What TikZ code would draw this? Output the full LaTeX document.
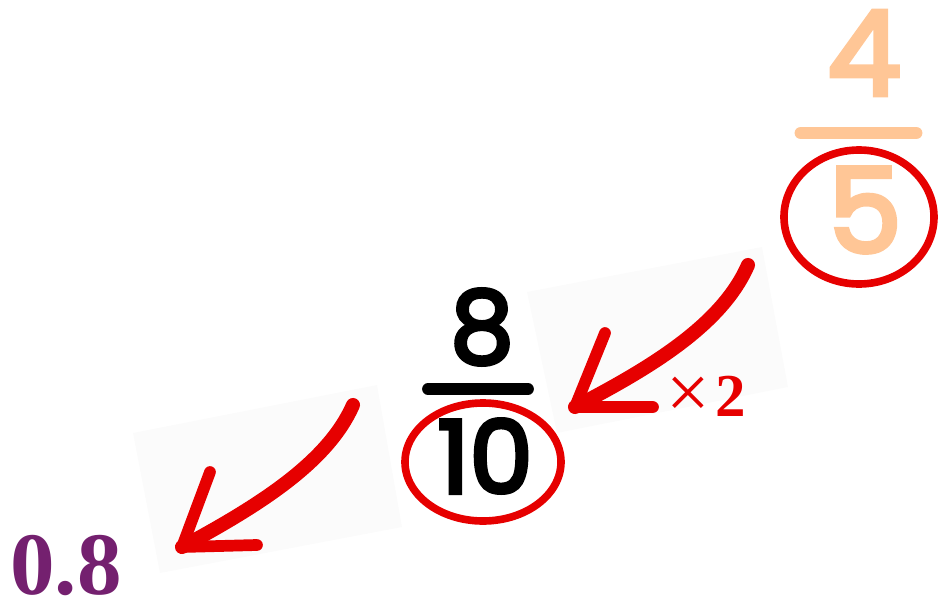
\documentclass[tikz,border=0pt]{standalone}
\usepackage{fontspec}
\usetikzlibrary{shapes.geometric}
\newfontfamily\handfont[FakeBold=4]{Poppins}
\newfontfamily\serifnum{Liberation Serif}
\definecolor{peach}{HTML}{FFC696}
\definecolor{redpen}{HTML}{E60000}
\definecolor{plum}{HTML}{74206F}
\begin{document}
\begin{tikzpicture}[x=0.03cm, y=-0.03cm,
  digit/.style={inner sep=0pt, font=\handfont\fontsize{#1}{#1}\selectfont},
  ring/.style={draw=redpen, line width=6.5pt, ellipse, inner sep=0pt},
  stroke/.style={draw=redpen, line width=12pt, line cap=round, line join=round},
  paper/.style={fill=black!1.5}]
  \useasboundingbox (0,0) rectangle (939,614);
  \fill[paper] (527,292) -- (762,247) -- (788,387) -- (557,433) -- cycle;
  \fill[paper] (133,433) -- (377,385) -- (402,527) -- (160,573) -- cycle;
  % 4/5
  \node[digit=100, text=peach] (four) at (864,53) {4};
  \draw[peach, line width=11pt, line cap=round] (801,133) -- (916,133);
  \node[digit=100, text=peach] (five) at (865,210) {5};
  \node[ring, minimum width=4.5cm, minimum height=4.02cm] (ringfive) at (859,217) {};
  % 8/10
  \node[digit=86, text=black] (eight) at (482,327) {8};
  \draw[black, line width=10pt, line cap=round] (428,389) -- (528,389);
  \node[digit=86, text=black] (ten) at (485,456) {10};
  \node[ring, minimum width=4.68cm, minimum height=3.54cm] (ringten) at (483,462) {};
  \node[inner sep=0pt, text=redpen, font=\serifnum\fontsize{66}{66}\selectfont] (times) at (688,398) {×};
  \node[inner sep=0pt, text=redpen, font=\serifnum\bfseries\fontsize{52}{52}\selectfont] (two) at (731,396) {2};
  % 0.8
  \node[inner sep=0pt, text=plum, font=\serifnum\bfseries\fontsize{76}{76}\selectfont] (dec) at (66,566) {0.8};
  % arrows
  \coordinate (a1) at (748,265);
  \coordinate (t1) at (575,407);
  \coordinate (u1) at (605,333);
  \coordinate (r1) at (653,407);
  \draw[stroke] (a1) .. controls (722,325) and (650,368) .. (t1);
  \draw[stroke, line width=10pt] (u1) -- (t1) -- (r1);
  \coordinate (a2) at (353,405);
  \coordinate (t2) at (182,547);
  \coordinate (u2) at (210,472);
  \coordinate (r2) at (257,545);
  \draw[stroke] (a2) .. controls (328,462) and (260,505) .. (t2);
  \draw[stroke, line width=10pt] (u2) -- (t2) -- (r2);
\end{tikzpicture}
\end{document}
